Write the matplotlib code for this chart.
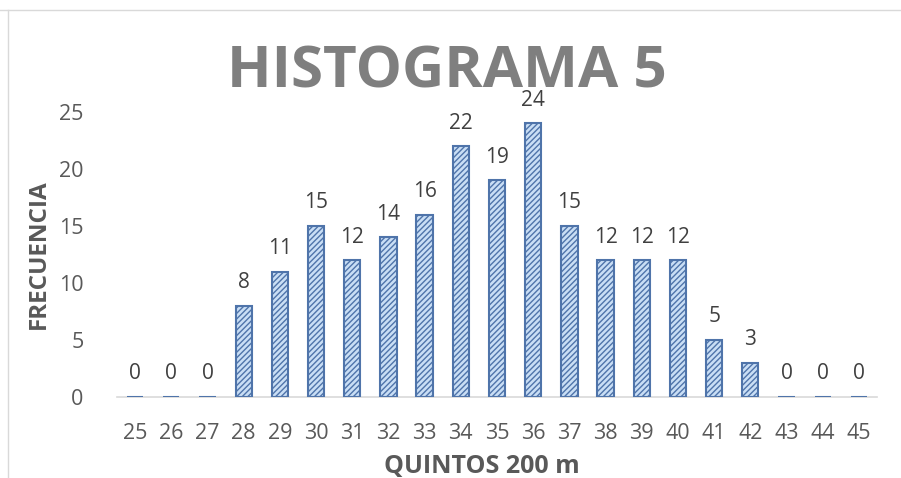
import matplotlib.pyplot as plt
from matplotlib.lines import Line2D

plt.rcParams['font.family'] = ['Open Sans', 'DejaVu Sans']

quintos = [25, 26, 27, 28, 29, 30, 31, 32, 33, 34, 35, 36, 37, 38, 39, 40, 41, 42, 43, 44, 45]
frecuencia = [0, 0, 0, 8, 11, 15, 12, 14, 16, 22, 19, 24, 15, 12, 12, 12, 5, 3, 0, 0, 0]

fig = plt.figure(figsize=(9.01, 4.78), dpi=100)
ax = fig.add_axes([117 / 901, 81 / 478, 760 / 901, 285 / 478])

pos = list(range(len(quintos)))
bars = ax.bar(pos, frecuencia, width=0.45, color='#c9def5', edgecolor='#4f74aa',
              hatch='//////', linewidth=1.5, zorder=3)

for x, v in zip(pos, frecuencia):
    ax.text(x, v + 1.1, str(v), ha='center', va='bottom', fontsize=15, color='#404040')

ax.set_xlim(-0.5, len(quintos) - 0.5)
ax.set_ylim(0, 25)
ax.set_yticks([0, 5, 10, 15, 20, 25])
ax.set_xticks(pos)
ax.set_xticklabels([str(q) for q in quintos])
ax.tick_params(axis='both', length=0, labelsize=15.5, labelcolor='#595959')
ax.tick_params(axis='x', pad=19)
ax.tick_params(axis='y', pad=24)

for side in ['top', 'right', 'left']:
    ax.spines[side].set_visible(False)
ax.spines['bottom'].set_color('#d9d9d9')
ax.spines['bottom'].set_linewidth(1.2)

ax.set_xlabel('QUINTOS 200 m', fontsize=18, fontweight='bold', color='#595959')
ax.xaxis.set_label_coords(0.48, -0.2)
ax.set_ylabel('FRECUENCIA', fontsize=17.5, fontweight='bold', color='#595959', labelpad=6)

fig.text(447 / 901, 1 - 73 / 478, 'HISTOGRAMA 5', ha='center', va='center',
         fontsize=42, fontweight='bold', color='#7f7f7f')

# chart area border
fig.add_artist(Line2D([0, 1], [1 - 10 / 478] * 2, color='#d9d9d9', lw=1))
fig.add_artist(Line2D([8 / 901] * 2, [0, 1 - 10 / 478], color='#d9d9d9', lw=1))

fig.savefig('out.png', dpi=100)
